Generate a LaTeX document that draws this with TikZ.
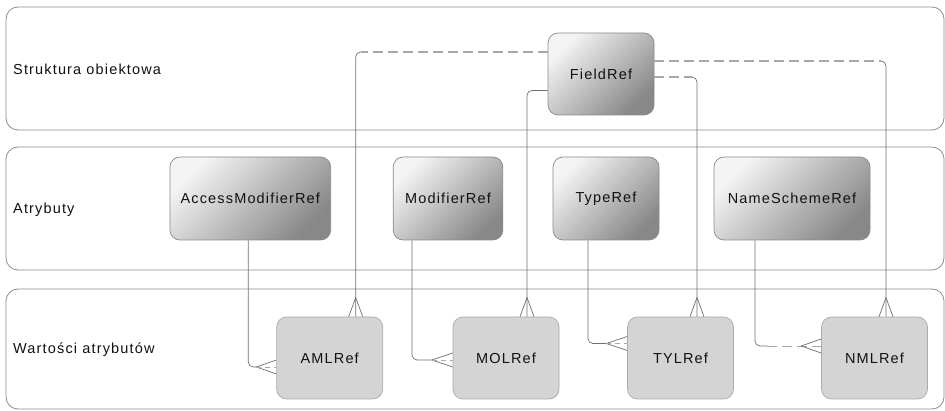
\documentclass[tikz,border=0pt]{standalone}
\usepackage{fontspec}
\setmainfont{Liberation Sans}[LetterSpace=8]
\definecolor{lanec}{HTML}{8C8C8C}
\definecolor{solc}{HTML}{6E6E6E}
\definecolor{dshc}{HTML}{A8A8A8}
\definecolor{boxb}{HTML}{8A8A8A}
\definecolor{valfill}{HTML}{D4D4D4}
\definecolor{valb}{HTML}{ABABAB}
\definecolor{gradlight}{HTML}{F4F4F4}
\definecolor{graddark}{HTML}{888888}
\definecolor{txt}{HTML}{111111}
\begin{document}
\begin{tikzpicture}[x=1pt,y=-1pt,
  lane/.style={draw=lanec, line width=0.8pt, rounded corners=12pt},
  lanelabel/.style={anchor=west, inner sep=0pt, font=\fontsize{14.5}{17}\selectfont, text=txt},
  refbox/.style={draw=boxb, line width=0.7pt, rounded corners=10pt, top color=gradlight, bottom color=graddark, shading angle=45, font=\fontsize{14.5}{17}\selectfont, text=txt, inner sep=0pt, minimum height=83pt},
  valbox/.style={draw=valb, line width=0.7pt, fill=valfill, rounded corners=10pt, font=\fontsize{14.5}{17}\selectfont, text=txt, inner sep=0pt, minimum width=106pt, minimum height=82pt},
  sol/.style={draw=solc, line width=0.7pt},
  dsh/.style={draw=dshc, line width=1.1pt, dash pattern=on 10pt off 5pt},
  rc/.style={rounded corners=5pt}
]
\useasboundingbox (0,0) rectangle (945,411);
% lanes
\draw[lane] (6,7) rectangle (944,130);
\draw[lane] (6,147) rectangle (944,270);
\draw[lane] (6,289) rectangle (944,409);
\node[lanelabel] (l1) at (13,69) {Struktura obiektowa};
\node[lanelabel] (l2) at (13,210) {Atrybuty};
\node[lanelabel] (l3) at (13,350) {Wartości atrybutów};

% nodes
\node[refbox, minimum width=106pt, minimum height=82pt] (F) at (601,74) {FieldRef};
\node[refbox, minimum width=160.7pt] (AMR) at (250.3,198.5) {AccessModifierRef};
\node[refbox, minimum width=109.7pt] (MR) at (448,198.5) {ModifierRef};
\node[refbox, minimum width=106pt] (TR) at (606,198.5) {TypeRef};
\node[refbox, minimum width=156pt] (NSR) at (792,198.5) {NameSchemeRef};
\node[valbox] (AML) at (329.7,358) {AMLRef};
\node[valbox] (MOL) at (506,358) {MOLRef};
\node[valbox] (TYL) at (680.5,358) {TYLRef};
\node[valbox] (NML) at (874.5,358) {NMLRef};

% helper coordinates
\coordinate (f1) at ([yshift=22pt]F.west);
\coordinate (a1) at ([xshift=26pt]AML.north);
\coordinate (c1) at (a1 |- f1);
\coordinate (f2) at ([yshift=-16.5pt]F.west);
\coordinate (a2) at ([xshift=21pt]MOL.north);
\coordinate (f3) at ([yshift=13pt]F.east);
\coordinate (a3) at ([xshift=11.5pt]NML.north);
\coordinate (c3) at (a3 |- f3);
\coordinate (f4) at ([yshift=-3pt]F.east);
\coordinate (a4) at ([xshift=16.5pt]TYL.north);
\coordinate (c4) at (a4 |- f4);

\coordinate (b5) at ([xshift=-2pt]AMR.south);
\coordinate (l5) at ([yshift=-9pt]AML.west);
\coordinate (b6) at ([xshift=-36pt]MR.south);
\coordinate (l6) at ([yshift=-2pt]MOL.west);
\coordinate (b7) at ([xshift=-18pt]TR.south);
\coordinate (l7) at ([yshift=14.5pt]TYL.west);
\coordinate (b8) at ([xshift=-37pt]NSR.south);
\coordinate (l8) at ([yshift=12pt]NML.west);
\coordinate (c8) at (b8 |- l8);

% FieldRef -> AMLRef
\draw[dsh] (f1) -- ([xshift=5pt]c1);
\draw[sol, rc] ([xshift=5pt]c1) -- (c1) -- (a1);
\draw[sol] ([xshift=-7pt]a1) -- ([yshift=19pt]a1) -- ([xshift=7pt]a1);
% FieldRef -> MOLRef
\draw[sol, rc] (f2) -| (a2);
\draw[sol] ([xshift=-7pt]a2) -- ([yshift=19pt]a2) -- ([xshift=7pt]a2);
% FieldRef -> NMLRef
\draw[dsh] (f3) -- ([xshift=-5pt]c3);
\draw[sol, rc] ([xshift=-5pt]c3) -- (c3) -- (a3);
\draw[sol] ([xshift=-7pt]a3) -- ([yshift=19pt]a3) -- ([xshift=7pt]a3);
% FieldRef -> TYLRef
\draw[dsh] (f4) -- ([xshift=-5pt]c4);
\draw[sol, rc] ([xshift=-5pt]c4) -- (c4) -- (a4);
\draw[sol] ([xshift=-7pt]a4) -- ([yshift=19pt]a4) -- ([xshift=7pt]a4);

% AccessModifierRef -> AMLRef
\draw[sol, rc] (b5) |- ([xshift=-20pt]l5);
\draw[sol] ([yshift=7pt]l5) -- ([xshift=-20pt]l5) -- ([yshift=-7pt]l5);
\draw[dsh, line width=0.7pt, dash pattern=on 5pt off 4pt] ([xshift=-20pt]l5) -- (l5);
% ModifierRef -> MOLRef
\draw[sol, rc] (b6) |- ([xshift=-21pt]l6);
\draw[sol] ([yshift=7pt]l6) -- ([xshift=-21pt]l6) -- ([yshift=-7pt]l6);
\draw[dsh, line width=0.7pt, dash pattern=on 5pt off 4pt] ([xshift=-21pt]l6) -- (l6);
% TypeRef -> TYLRef
\draw[sol, rc] (b7) |- ([xshift=-21pt]l7);
\draw[sol] ([yshift=7pt]l7) -- ([xshift=-21pt]l7) -- ([yshift=-7pt]l7);
\draw[dsh, line width=0.7pt, dash pattern=on 5pt off 4pt] ([xshift=-21pt]l7) -- (l7);
% NameSchemeRef -> NMLRef
\draw[sol, rc] (b8) -- (c8) -- ([xshift=12pt]c8);
\draw[dsh, line width=0.9pt] ([xshift=12pt]c8) -- (l8);
\draw[sol] ([yshift=7pt]l8) -- ([xshift=-20pt]l8) -- ([yshift=-7pt]l8);
\end{tikzpicture}
\end{document}
